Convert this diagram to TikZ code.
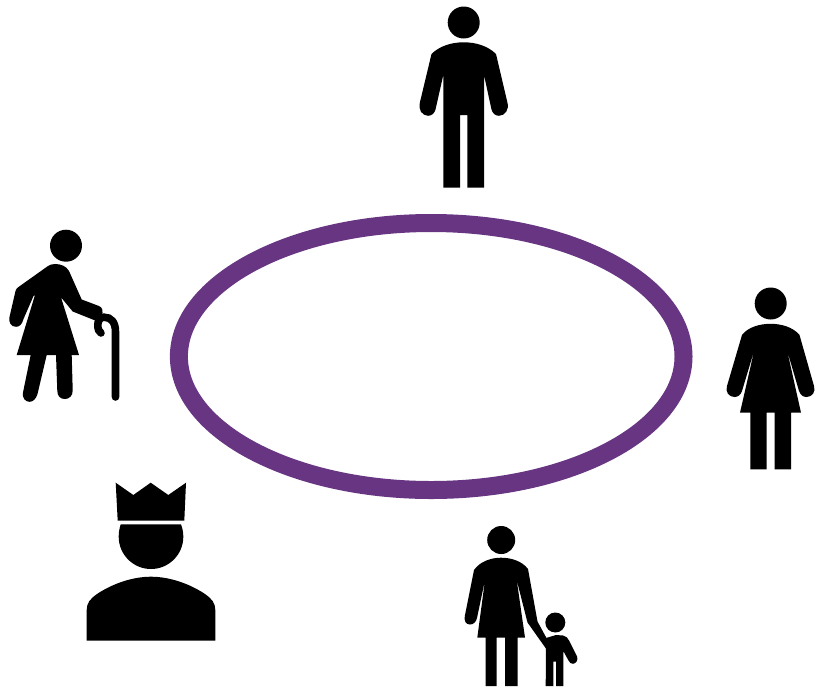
\documentclass[tikz,border=0pt]{standalone}
\definecolor{ringpurple}{HTML}{673582}
\tikzset{
  ring/.style={draw=ringpurple,line width=18pt},
  figure/.style={fill=black,draw=none},
  canestroke/.style={draw=black,line width=7.6pt,line cap=round}
}
\begin{document}
\begin{tikzpicture}[x=1pt,y=-1pt]
\useasboundingbox (0,0) rectangle (816,691);
% ring
\draw[ring] (431.2,356.5) ellipse [x radius=252.3,y radius=133.5];
% man (top)
\fill[figure] (463.7,22.5) circle [radius=16];
\fill[figure] (463.7,42.3) .. controls (476,42.3) and (488,46) .. (496,54)
  -- (507.3,102) .. controls (509.5,110) and (505,115.5) .. (499,115.8)
  .. controls (495,115.8) and (492.5,113) .. (491.5,109.5)
  -- (484,75) -- (484,187.7) -- (467.3,187.7) -- (467.3,115) -- (460,115) -- (460,187.7) -- (443.3,187.7) -- (443.3,75)
  -- (435.5,109.5) .. controls (434.5,113) and (432,115.8) .. (428,115.8)
  .. controls (422,115.5) and (418,110) .. (420,102)
  -- (431.5,54) .. controls (439.5,46) and (451.5,42.3) .. (463.7,42.3) -- cycle;
% woman (right)
\fill[figure] (770.7,303.5) circle [radius=16];
\fill[figure] (770.7,323.8) .. controls (781,323.8) and (793,327) .. (799.5,335)
  -- (814,386) .. controls (816,392) and (812,397) .. (806.5,397)
  .. controls (803,397) and (800.5,395) .. (799,391)
  -- (787,350) -- (801,412.7) -- (791,412.7) -- (791,469.3) -- (774.7,469.3) -- (774.7,412.7) -- (766.7,412.7) -- (766.7,469.3) -- (750.3,469.3) -- (750.3,412.7) -- (740,412.7)
  -- (754.3,350) -- (742,391) .. controls (740.5,395) and (738,397) .. (734.5,397)
  .. controls (729,397) and (725,392) .. (727,386)
  -- (742,335) .. controls (748,327) and (760,323.8) .. (770.7,323.8) -- cycle;
% mother and child (bottom)
\fill[figure] (501.2,540) circle [radius=14];
\fill[figure] (501,557.7) .. controls (511,557.7) and (522,561) .. (528,569)
  -- (537.5,621.5) -- (547,639) -- (547,650) -- (527.5,622.5) -- (516.7,580) -- (525,637.7) -- (517.7,637.7) -- (517.7,686) -- (505,686) -- (505,637.7) -- (496.7,637.7) -- (496.7,686) -- (485.7,686) -- (485.7,637.7) -- (477.3,637.7)
  -- (485,580) -- (477,618) .. controls (476,622) and (473.5,624.5) .. (470,624.5)
  .. controls (465.5,624.5) and (464,620.5) .. (464.8,616)
  -- (474,570) .. controls (480,561.5) and (491,557.7) .. (501,557.7) -- cycle;
\fill[figure] (555.3,622.5) circle [radius=10];
\fill[figure] (546,638) -- (556,635) -- (563,635.5) .. controls (566,636) and (568,638) .. (569,640.5)
  -- (577,656.5) .. controls (578.5,660) and (576,663.5) .. (573,663.8)
  .. controls (571,664) and (569.5,662.5) .. (568.5,660.5)
  -- (563.3,651) -- (563.3,686) -- (556,686) -- (556,661.7) -- (553.3,661.7) -- (553.3,686) -- (545.7,686) -- cycle;
% old woman with cane (left)
\fill[figure] (66,245.7) circle [radius=16];
\fill[figure] (55,264) .. controls (61,264) and (66,266) .. (69,271)
  -- (81.7,299.5) -- (99,306) .. controls (103,307.5) and (103,312) .. (102,315)
  -- (99,322) -- (72.7,311.5) -- (61,297.3) -- (79,355) -- (71.7,355) -- (72.7,390)
  .. controls (73,396) and (69,399) .. (65,399) .. controls (60,399) and (57.5,396) .. (57.3,391)
  -- (56,355) -- (46.7,355) -- (37.5,394) .. controls (36,399) and (33,401.8) .. (29.5,401.8)
  .. controls (25,401.8) and (22,397.5) .. (23,392.5) -- (30.7,355) -- (16.7,355) -- (35,295) -- (33.5,296)
  -- (23.5,319) .. controls (22,324.5) and (19.5,326.8) .. (16,326.8)
  .. controls (11,326.8) and (8.5,322.5) .. (9.5,317)
  -- (15.5,291) .. controls (16,289) and (17,288) .. (18.5,287) -- (48,266) .. controls (50,264.8) and (52,264) .. (55,264) -- cycle;
\draw[canestroke] (115.5,397) -- (115.5,332) .. controls (115.5,322) and (111,317.2) .. (104,317.2)
  .. controls (100,317.2) and (97.8,321) .. (97.8,325) .. controls (97.8,329) and (99,332) .. (101,333);
% king
\fill[figure] (115.7,482.7) -- (133.3,495) -- (150.7,482.7) -- (168.3,495) -- (186,482.7) -- (184.3,520.7) -- (117.7,520.7) -- cycle;
\fill[figure] (120.7,524.3) -- (181,524.3) .. controls (182.8,529) and (183.3,533) .. (183.3,536.7)
  arc [start angle=0,end angle=180,radius=32.3] .. controls (118.7,533) and (119.2,529) .. (120.7,524.3) -- cycle;
\fill[figure] (151,576.7) .. controls (170,576.7) and (190,584) .. (205,594)
  .. controls (212,599) and (215.3,603) .. (215.3,610) -- (215.3,640.7) -- (86.7,640.7) -- (86.7,610)
  .. controls (86.7,603) and (90,599) .. (97,594) .. controls (112,584) and (132,576.7) .. (151,576.7) -- cycle;
\end{tikzpicture}
\end{document}
